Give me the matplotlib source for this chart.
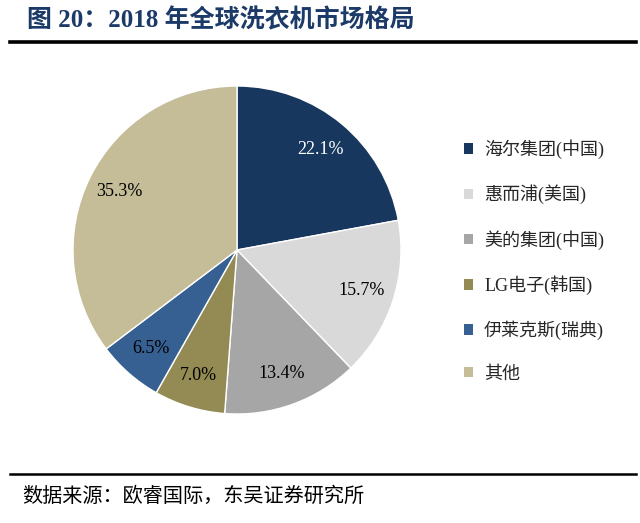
import matplotlib
matplotlib.use("Agg")
import matplotlib.pyplot as plt
from matplotlib.lines import Line2D

plt.rcParams['font.family'] = ['Liberation Serif', 'Noto Sans CJK SC', 'DejaVu Sans']

# data
brands = ["海尔集团(中国)", "惠而浦(美国)", "美的集团(中国)", "LG电子(韩国)", "伊莱克斯(瑞典)", "其他"]
shares = [22.1, 15.7, 13.4, 7.0, 6.5, 35.3]
colors = ["#17375E", "#D9D9D9", "#A6A6A6", "#948A54", "#376092", "#C4BD97"]
label_colors = ["white", "black", "black", "black", "black", "black"]

W, H = 640, 523
fig = plt.figure(figsize=(W / 100, H / 100), dpi=100)

# pie axes: centre (237, 250) px, radius 164 px
cx, cy, r = 237, 250, 164
half = r * 1.05
ax = fig.add_axes([(cx - half) / W, (H - cy - half) / H, 2 * half / W, 2 * half / H])

wedges, texts, autotexts = ax.pie(
    shares, colors=colors, startangle=90, counterclock=False,
    autopct="%.1f%%", pctdistance=0.8,
    wedgeprops=dict(edgecolor="white", linewidth=1.0),
    textprops=dict(fontsize=13, family=['Liberation Serif']),
)
for t, c in zip(autotexts, label_colors):
    t.set_color(c)
ax.set_xlim(-1.05, 1.05)
ax.set_ylim(-1.05, 1.05)
ax.set_aspect("equal")

# legend
leg = fig.legend(
    wedges, brands, loc="upper left", bbox_to_anchor=(448 / W, 1 - 123 / H),
    frameon=False, fontsize=13, handlelength=0.5, handleheight=0.5,
    handletextpad=0.6, labelspacing=1.42,
)
for h in leg.legend_handles:
    h.set_edgecolor("none")
for t in leg.get_texts():
    t.set_color("#262626")

# title and source
fig.text(27 / W, 1 - 20 / H, "图 20：2018 年全球洗衣机市场格局", fontsize=18,
         fontweight="bold", color="#1B3A68", va="center", ha="left")
fig.text(22 / W, 1 - 497 / H, "数据来源：欧睿国际，东吴证券研究所", fontsize=14.5,
         color="black", va="center", ha="left")

# horizontal rules
fig.add_artist(Line2D([10 / W, 636 / W], [1 - 42 / H, 1 - 42 / H],
                      color="black", linewidth=2.6, transform=fig.transFigure))
fig.add_artist(Line2D([10 / W, 636 / W], [1 - 474 / H, 1 - 474 / H],
                      color="black", linewidth=1.8, transform=fig.transFigure))

fig.savefig("out.png", dpi=100)
